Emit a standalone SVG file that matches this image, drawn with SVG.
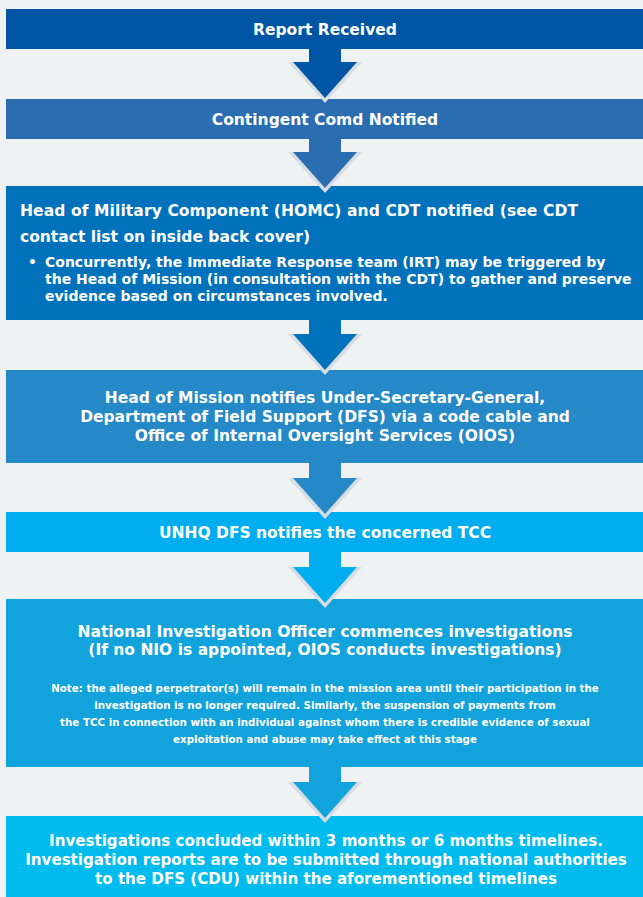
<svg xmlns="http://www.w3.org/2000/svg" width="643" height="897" viewBox="0 0 643 897">
<style>
.t{font-family:"DejaVu Sans","Liberation Sans",sans-serif;font-weight:bold;fill:#ffffff}
.h{font-size:15.5px}
.h2{font-size:15.1px}
.c{text-anchor:middle}
.b{font-size:14px}
.n{font-size:10.3px}
.sh{fill:#d7dde2}
</style>
<rect width="643" height="897" fill="#eef2f3"/>
<g id="node-report">
<rect x="6" y="9" width="637" height="40" fill="#0055a5"/>
<text class="t h c" x="325" y="35">Report Received</text>
</g>
<g id="node-contingent">
<rect x="6" y="99" width="637" height="40" fill="#2b6db1"/>
<text class="t h c" x="325" y="125">Contingent Comd Notified</text>
</g>
<g id="node-homc">
<rect x="6" y="186" width="637" height="134" fill="#0072bc"/>
<text class="t h" x="20" y="216" textLength="558">Head of Military Component (HOMC) and CDT notified (see CDT</text>
<text class="t h" x="20" y="242">contact list on inside back cover)</text>
<text class="t b" x="28" y="267">•</text>
<text class="t b" x="45" y="267">Concurrently, the Immediate Response team (IRT) may be triggered by</text>
<text class="t b" x="45" y="284">the Head of Mission (in consultation with the CDT) to gather and preserve</text>
<text class="t b" x="45" y="301">evidence based on circumstances involved.</text>
</g>
<g id="node-hom">
<rect x="6" y="370" width="637" height="93" fill="#2589c7"/>
<text class="t h c" x="325" y="403">Head of Mission notifies Under-Secretary-General,</text>
<text class="t h c" x="325" y="422">Department of Field Support (DFS) via a code cable and</text>
<text class="t h c" x="325" y="441">Office of Internal Oversight Services (OIOS)</text>
</g>
<g id="node-unhq">
<rect x="6" y="512" width="637" height="40" fill="#00aeef"/>
<text class="t h c" x="325" y="538">UNHQ DFS notifies the concerned TCC</text>
</g>
<g id="node-nio">
<rect x="6" y="599" width="637" height="168" fill="#12a3dc"/>
<text class="t h c" x="325" y="637">National Investigation Officer commences investigations</text>
<text class="t h c" x="325" y="655">(If no NIO is appointed, OIOS conducts investigations)</text>
<text class="t n c" x="325" y="692">Note: the alleged perpetrator(s) will remain in the mission area until their participation in the</text>
<text class="t n c" x="325" y="709">investigation is no longer required. Similarly, the suspension of payments from</text>
<text class="t n c" x="325" y="726">the TCC in connection with an individual against whom there is credible evidence of sexual</text>
<text class="t n c" x="325" y="743">exploitation and abuse may take effect at this stage</text>
</g>
<g id="node-concluded">
<rect x="6" y="816" width="637" height="81" fill="#00bcee"/>
<text class="t h2 c" x="326" y="846">Investigations concluded within 3 months or 6 months timelines.</text>
<text class="t h2 c" x="326" y="865">Investigation reports are to be submitted through national authorities</text>
<text class="t h2 c" x="326" y="884">to the DFS (CDU) within the aforementioned timelines</text>
</g>
<g id="connectors">
<g id="arrow-1"><rect x="309" y="48" width="32" height="15" fill="#0055a5"/><polygon class="sh" points="288,62 362,62 325,103"/><polygon points="293,62 357,62 325,98" fill="#0055a5"/></g>
<g id="arrow-2"><rect x="309" y="138" width="32" height="15" fill="#2b6db1"/><polygon class="sh" points="288,152 362,152 325,193"/><polygon points="293,152 357,152 325,188" fill="#2b6db1"/></g>
<g id="arrow-3"><rect x="309" y="319" width="32" height="16" fill="#0072bc"/><polygon class="sh" points="288,334 362,334 325,375"/><polygon points="293,334 357,334 325,370" fill="#0072bc"/></g>
<g id="arrow-4"><rect x="309" y="462" width="32" height="17" fill="#2589c7"/><polygon class="sh" points="288,478 362,478 325,519"/><polygon points="293,478 357,478 325,514" fill="#2589c7"/></g>
<g id="arrow-5"><rect x="309" y="551" width="32" height="17" fill="#00aeef"/><polygon class="sh" points="288,567 362,567 325,608"/><polygon points="293,567 357,567 325,603" fill="#00aeef"/></g>
<g id="arrow-6"><rect x="309" y="766" width="32" height="17" fill="#12a3dc"/><polygon class="sh" points="288,782 362,782 325,823"/><polygon points="293,782 357,782 325,818" fill="#12a3dc"/></g>
</g>
</svg>
